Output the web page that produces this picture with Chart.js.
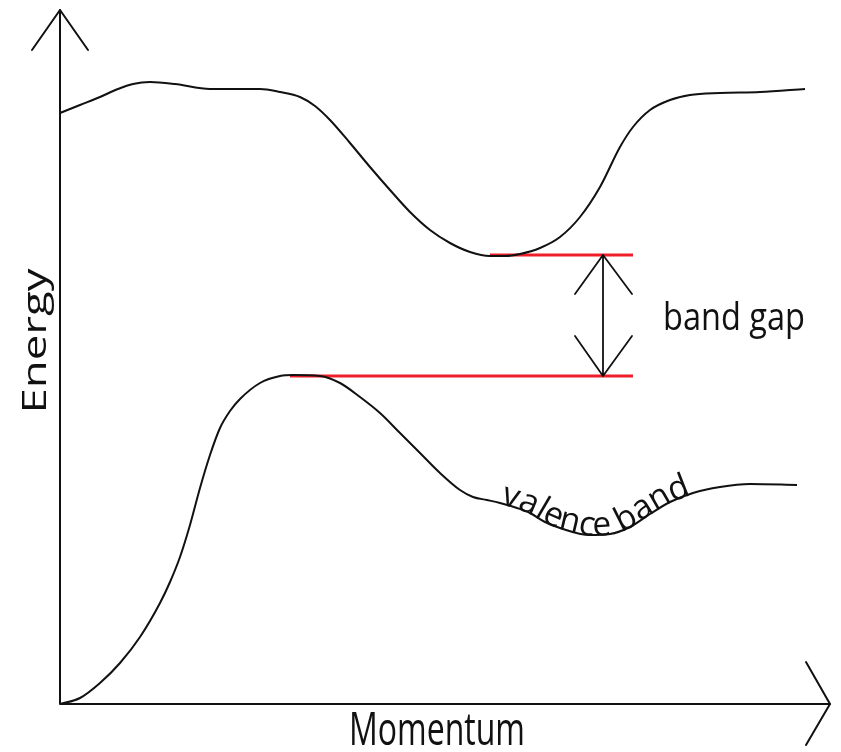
<!DOCTYPE html>
<html>
<head>
<meta charset="utf-8">
<script src="https://cdn.jsdelivr.net/npm/chart.js@4.4.1/dist/chart.umd.min.js"></script>
<style>
  body { margin: 0; background: #fff; }
  canvas { display: block; }
</style>
</head>
<body>
<canvas id="bandChart" width="841" height="752"></canvas>
<script>
// Band diagram: energy vs momentum (arbitrary units)
const conductionMomentum = [0, 20, 40, 58, 73, 90, 115, 150, 200, 220, 240, 255, 270, 290, 310, 330, 350, 370, 390, 410, 430, 445, 460, 480, 500, 520, 540, 560, 573, 590, 610, 630, 660, 700, 745];
const conductionEnergy   = [591, 599, 607, 615, 620, 622, 620, 615, 615, 612, 607, 598, 584, 561, 537, 514, 492, 474, 461, 452, 448, 448, 450, 456, 467, 487, 517, 557, 577, 594, 604, 609, 611, 612, 615];

const valenceMomentum = [0, 20, 40, 60, 80, 100, 110, 120, 130, 140, 150, 160, 170, 180, 200, 220, 233, 260, 280, 300, 320, 340, 360, 380, 400, 413, 427, 440, 457, 470, 485, 500, 530, 550, 570, 590, 610, 633, 660, 690, 737];
const valenceEnergy   = [0, 6, 21, 41, 67, 101, 122, 147, 179, 216, 249, 276, 293, 305, 321, 328, 329, 328, 321, 307, 291, 271, 251, 231, 214, 207, 204, 201, 196, 191, 182, 176, 169, 170, 177, 190, 202, 211, 217, 220, 219];

// red level markers and the gap arrow
const conductionMinLevel = { energy: 449, from: 430, to: 573 };
const valenceMaxLevel    = { energy: 328, from: 230, to: 573 };
const gapArrowMomentum = 543;

const labels = {
    xAxis: 'Momentum',
    yAxis: 'Energy',
    gap: 'band gap',
    valence: 'valence band'
};
const gapLabelPos = { momentum: 603, energy: 374 };
const valenceLabelStart = 440;

function toPoints(xs, ys) {
    return xs.map((x, i) => ({ x: x, y: ys[i] }));
}

const diagramPlugin = {
    id: 'diagram',
    afterDatasetsDraw(chart) {
        const ctx = chart.ctx;
        const xs = chart.scales.x, ys = chart.scales.y;
        const px = v => xs.getPixelForValue(v);
        const py = v => ys.getPixelForValue(v);
        const ox = px(0), oy = py(0);
        const xEnd = px(770), yEnd = py(694);

        ctx.save();
        ctx.strokeStyle = '#111';
        ctx.lineWidth = 2;
        ctx.lineCap = 'round';
        ctx.lineJoin = 'round';

        // axes
        ctx.beginPath();
        ctx.moveTo(ox, yEnd);
        ctx.lineTo(ox, oy);
        ctx.lineTo(xEnd, oy);
        ctx.stroke();

        // axis arrow heads
        ctx.beginPath();
        ctx.moveTo(ox - 28, yEnd + 40);
        ctx.lineTo(ox, yEnd);
        ctx.lineTo(ox + 28, yEnd + 40);
        ctx.moveTo(xEnd - 24, oy - 42);
        ctx.lineTo(xEnd, oy);
        ctx.lineTo(xEnd - 24, oy + 41);
        ctx.stroke();

        // band gap double arrow
        const ax = px(gapArrowMomentum);
        const aTop = py(conductionMinLevel.energy);
        const aBot = py(valenceMaxLevel.energy);
        ctx.lineWidth = 1.8;
        ctx.beginPath();
        ctx.moveTo(ax, aTop);
        ctx.lineTo(ax, aBot);
        ctx.moveTo(ax - 28, aTop + 39);
        ctx.lineTo(ax, aTop);
        ctx.lineTo(ax + 29, aTop + 39);
        ctx.moveTo(ax - 28, aBot - 40);
        ctx.lineTo(ax, aBot);
        ctx.lineTo(ax + 29, aBot - 40);
        ctx.stroke();

        ctx.fillStyle = '#111';

        // band gap label
        ctx.save();
        ctx.font = '38px "Open Sans"';
        ctx.textBaseline = 'alphabetic';
        ctx.translate(px(gapLabelPos.momentum), py(gapLabelPos.energy));
        ctx.scale(142 / ctx.measureText(labels.gap).width, 1);
        ctx.fillText(labels.gap, 0, 0);
        ctx.restore();

        // x axis title
        ctx.save();
        ctx.font = '46px "Open Sans"';
        ctx.translate(437, 745);
        ctx.scale(176 / ctx.measureText(labels.xAxis).width, 1);
        ctx.textAlign = 'center';
        ctx.fillText(labels.xAxis, 0, 0);
        ctx.restore();

        // y axis title
        ctx.save();
        ctx.font = '32px "Open Sans"';
        ctx.translate(46, 341);
        ctx.rotate(-Math.PI / 2);
        ctx.scale(145 / ctx.measureText(labels.yAxis).width, 1);
        ctx.textAlign = 'center';
        ctx.fillText(labels.yAxis, 0, 0);
        ctx.restore();

        // valence band label along the curve
        const pts = valenceMomentum.map((m, i) => [px(m), py(valenceEnergy[i])]);
        const curveY = x => {
            for (let i = 1; i < pts.length; i++) {
                if (x <= pts[i][0]) {
                    const t = (x - pts[i - 1][0]) / (pts[i][0] - pts[i - 1][0]);
                    return pts[i - 1][1] + t * (pts[i][1] - pts[i - 1][1]);
                }
            }
            return pts[pts.length - 1][1];
        };
        ctx.font = '34px "Open Sans"';
        ctx.textAlign = 'center';
        const squeeze = 206 / ctx.measureText(labels.valence).width;
        let x = px(valenceLabelStart);
        for (const ch of labels.valence) {
            const w = ctx.measureText(ch).width * squeeze;
            const mid = x + w / 2;
            const ang = Math.atan2(curveY(mid + 8) - curveY(mid - 8), 16);
            ctx.save();
            ctx.translate(mid, curveY(mid) + 1);
            ctx.rotate(ang);
            ctx.scale(squeeze, 1);
            ctx.fillText(ch, 0, 0);
            ctx.restore();
            x += w * Math.cos(ang);
        }
        ctx.restore();
    }
};

const ctx = document.getElementById('bandChart').getContext('2d');
new Chart(ctx, {
    type: 'line',
    data: {
        datasets: [
            {
                label: 'conduction band',
                data: toPoints(conductionMomentum, conductionEnergy),
                borderColor: '#111',
                borderWidth: 2,
                pointRadius: 0,
                cubicInterpolationMode: 'monotone',
                fill: false
            },
            {
                label: 'valence band',
                data: toPoints(valenceMomentum, valenceEnergy),
                borderColor: '#111',
                borderWidth: 2,
                pointRadius: 0,
                cubicInterpolationMode: 'monotone',
                fill: false
            },
            {
                label: 'conduction minimum',
                data: [{ x: conductionMinLevel.from, y: conductionMinLevel.energy }, { x: conductionMinLevel.to, y: conductionMinLevel.energy }],
                borderColor: 'rgb(240, 30, 40)',
                borderWidth: 3,
                pointRadius: 0
            },
            {
                label: 'valence maximum',
                data: [{ x: valenceMaxLevel.from, y: valenceMaxLevel.energy }, { x: valenceMaxLevel.to, y: valenceMaxLevel.energy }],
                borderColor: 'rgb(240, 30, 40)',
                borderWidth: 3,
                pointRadius: 0
            }
        ]
    },
    options: {
        responsive: false,
        animation: false,
        layout: { padding: 0 },
        plugins: {
            legend: { display: false },
            tooltip: { enabled: false }
        },
        scales: {
            x: { type: 'linear', min: -60, max: 781, display: false },
            y: { type: 'linear', min: -48, max: 704, display: false }
        }
    },
    plugins: [diagramPlugin]
});
</script>
</body>
</html>
